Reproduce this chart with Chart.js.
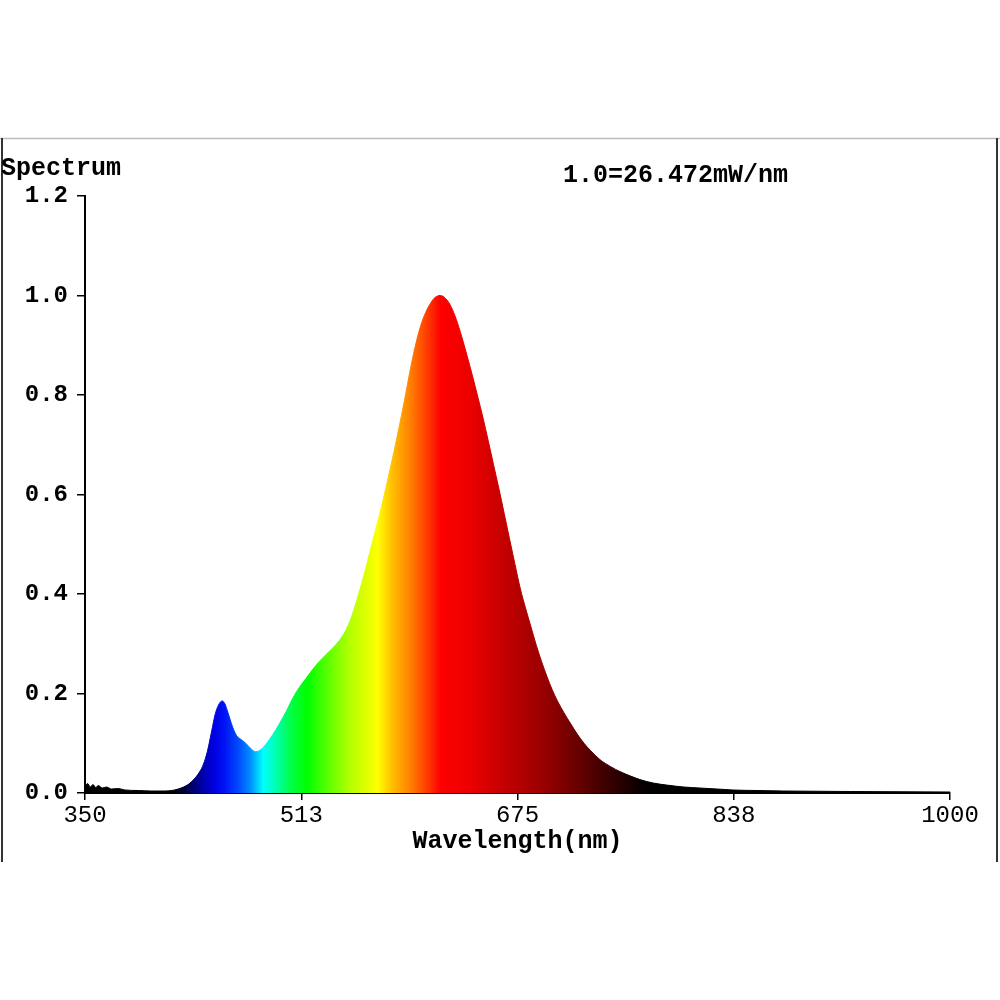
<!DOCTYPE html>
<html><head><meta charset="utf-8">
<script src="https://cdn.jsdelivr.net/npm/chart.js@4.4.1/dist/chart.umd.min.js"></script>
<style>html,body{margin:0;padding:0;background:#fff}canvas{display:block}</style>
</head><body>
<canvas id="c" width="1000" height="1000"></canvas>
<script>
const wavelengths = [350,352,354,356,358,360,363,366,370,375,380,390,400,410,420,428,432,436,439,442,445,448,451,453,455,457,459,461,464,467,470,474,478,481,484,491,496,501,506,511,516,521,526,531,536,541,546,550,554,558,561,564,569,574,578,582,586,590,594,598,602,606,610,613,617,621,625,629,633,637,641,645,649,653,657,661,665,669,673,677,681,685,689,693,697,701,705,710,715,720,725,730,737,745,752,760,767,777,787,800,812,825,837,855,875,925,1000];
const intensity = [0.014,0.019,0.012,0.017,0.011,0.015,0.010,0.012,0.008,0.009,0.006,0.005,0.004,0.004,0.008,0.018,0.028,0.042,0.058,0.084,0.122,0.160,0.180,0.185,0.180,0.165,0.148,0.132,0.115,0.108,0.102,0.091,0.083,0.085,0.092,0.117,0.139,0.163,0.190,0.212,0.230,0.248,0.264,0.278,0.291,0.306,0.327,0.352,0.385,0.422,0.452,0.484,0.535,0.589,0.636,0.684,0.735,0.788,0.845,0.896,0.937,0.966,0.986,0.996,1.000,0.994,0.978,0.952,0.918,0.880,0.840,0.798,0.755,0.708,0.660,0.612,0.562,0.511,0.461,0.412,0.372,0.335,0.298,0.265,0.235,0.208,0.185,0.161,0.139,0.118,0.100,0.085,0.067,0.053,0.043,0.034,0.027,0.020,0.016,0.012,0.010,0.008,0.006,0.005,0.004,0.003,0.002];
const xTickValues = [350,512.5,675,837.5,1000];
const yTickValues = [0,0.2,0.4,0.6,0.8,1.0,1.2];
const colorStopNm = [350,415,428,437,447,455,466,474,484,494,505,517,534,549,570,579,594,609,617,640,662,690,707,737,767,780,1000];
const colorStopRgb = ['#000000','#000000','rgb(0,0,80)','rgb(0,0,160)','rgb(0,0,225)','rgb(0,20,245)','rgb(0,80,255)','rgb(0,140,255)','rgb(0,255,255)','rgb(0,255,170)','rgb(0,255,70)','rgb(0,255,0)','rgb(100,255,0)','rgb(180,255,0)','rgb(255,255,0)','rgb(255,200,0)','rgb(255,130,0)','rgb(255,50,0)','rgb(255,0,0)','rgb(235,0,0)','rgb(200,0,0)','rgb(160,0,0)','rgb(130,0,0)','rgb(70,0,0)','rgb(10,0,0)','#000000','#000000'];
const yAxisName = 'Spectrum';
const xAxisName = 'Wavelength(nm)';
const scaleNote = '1.0=26.472mW/nm';

const FONT = "'Liberation Mono', 'Courier New', monospace";

function spectrumGradient(ctx) {
  const chart = ctx.chart;
  const area = chart.chartArea;
  const xs = chart.scales.x;
  if (!area || !xs) return '#000';
  const x0 = xs.getPixelForValue(350), x1 = xs.getPixelForValue(1000);
  const g = chart.ctx.createLinearGradient(x0, 0, x1, 0);
  colorStopNm.forEach((nm, i) => {
    g.addColorStop((xs.getPixelForValue(nm) - x0) / (x1 - x0), colorStopRgb[i]);
  });
  return g;
}

const framePlugin = {
  id: 'frame',
  afterDraw(chart) {
    const c = chart.ctx;
    c.save();
    c.strokeStyle = '#bdbdbd'; c.lineWidth = 1.5;
    c.beginPath(); c.moveTo(0, 138.5); c.lineTo(1000, 138.5); c.stroke();
    c.strokeStyle = '#333'; c.lineWidth = 2;
    c.beginPath(); c.moveTo(2, 138); c.lineTo(2, 862); c.stroke();
    c.beginPath(); c.moveTo(997, 138); c.lineTo(997, 862); c.stroke();
    c.fillStyle = '#000';
    c.font = 'bold 25px ' + FONT;
    c.textBaseline = 'alphabetic';
    c.textAlign = 'left';
    c.fillText(yAxisName, 1, 175);
    c.fillText(scaleNote, 563, 182);
    c.restore();
  }
};

new Chart(document.getElementById('c'), {
  type: 'line',
  data: {
    datasets: [{
      data: wavelengths.map((w, i) => ({x: w, y: intensity[i]})),
      fill: 'origin',
      backgroundColor: spectrumGradient,
      borderColor: spectrumGradient,
      borderWidth: 1,
      pointRadius: 0,
      cubicInterpolationMode: 'monotone'
    }]
  },
  options: {
    responsive: false,
    animation: false,
    devicePixelRatio: 1,
    layout: {padding: {left: 0, right: 50, top: 196, bottom: 138}},
    plugins: {legend: {display: false}, tooltip: {enabled: false}},
    scales: {
      x: {
        type: 'linear', min: 350, max: 1000,
        afterBuildTicks: s => { s.ticks = xTickValues.map(v => ({value: v})); },
        afterFit: s => { s.height = 69; },
        ticks: {callback: v => String(Math.round(v)), color: '#000', font: {family: FONT, size: 24}, padding: 1, maxRotation: 0, autoSkip: false},
        grid: {drawOnChartArea: false, drawTicks: true, tickLength: 7, color: '#000', lineWidth: 1.5},
        border: {display: true, color: '#000', width: 2},
        title: {display: true, text: xAxisName, color: '#000', font: {family: FONT, size: 25, weight: 'bold'}, padding: {top: 0, bottom: 5}}
      },
      y: {
        min: 0, max: 1.2,
        afterBuildTicks: s => { s.ticks = yTickValues.map(v => ({value: v})); },
        afterFit: s => { s.width = 85; },
        ticks: {callback: v => v.toFixed(1), color: '#000', font: {family: FONT, size: 24, weight: 'bold'}, padding: 9},
        grid: {drawOnChartArea: false, drawTicks: true, tickLength: 8, color: '#000', lineWidth: 1.5},
        border: {display: true, color: '#000', width: 2}
      }
    }
  },
  plugins: [framePlugin]
});
</script>
</body></html>
